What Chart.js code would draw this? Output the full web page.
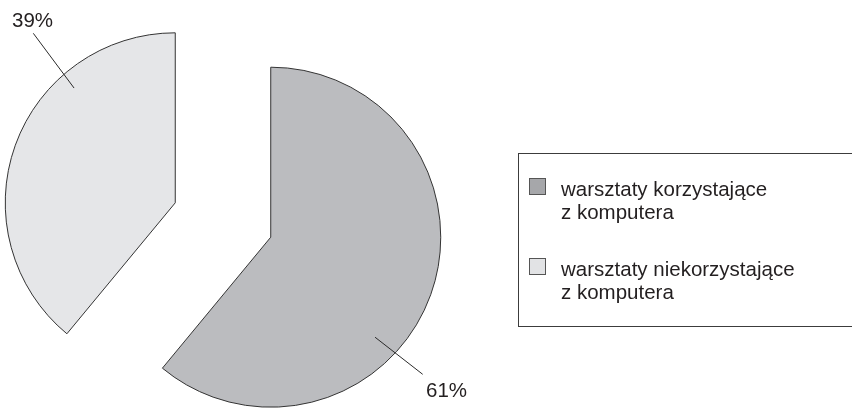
<!DOCTYPE html>
<html lang="pl">
<head>
<meta charset="utf-8">
<script src="https://cdn.jsdelivr.net/npm/chart.js@4.4.1/dist/chart.umd.min.js"></script>
<style>
  html, body { margin: 0; padding: 0; background: #fff; overflow: hidden; }
  #wrap { position: relative; width: 852px; height: 415px; }
  #chart { position: absolute; left: 0; top: 0; }
  #legend {
    position: absolute; left: 518px; top: 153px; width: 360px; height: 174px;
    border: 1px solid #3c3c3c; box-sizing: border-box;
    font-family: "Liberation Sans", Arial, sans-serif; font-size: 20.5px; line-height: 22.6px; color: #231f20;
  }
  .box { position: absolute; left: 10px; width: 17px; height: 17px; box-sizing: border-box; border: 1px solid #555; }
  .txt { position: absolute; left: 42px; white-space: nowrap; }
</style>
</head>
<body>
<div id="wrap">
  <canvas id="chart" width="852" height="415"></canvas>
  <div id="legend"></div>
</div>
<script>
// Dane wykresu
const categories = [
    ['warsztaty korzystające', 'z komputera'],
    ['warsztaty niekorzystające', 'z komputera']
];
const shares = [61, 39];
const sliceColors = ['#bbbcbf', '#e5e6e8'];
const legendColors = ['#a6a7aa', '#e2e3e5'];

// Wysunięcie wycinków (px wzdłuż środka kąta)
const explodeBy = [50.75, 50.75];

// Pozycje podpisów procentowych (kąt kotwicy w stopniach od góry, zgodnie z zegarem)
const labelStyle = [
    { angle: 133.8, depth: 0.85, lineEnd: [422.7, 374.3], textAt: [426, 396.7] },
    { angle: 318.6, depth: 0.90, lineEnd: [33.3, 33.3], textAt: [12, 26.7] }
];

function shift(arc, i) {
    const mid = (arc.startAngle + arc.endAngle) / 2;
    return [Math.cos(mid) * explodeBy[i], Math.sin(mid) * explodeBy[i]];
}

// Przesuwa każdy wycinek bez zmiany promienia
const explode = {
    id: 'explode',
    afterUpdate(chart) {
        chart.getDatasetMeta(0).data.forEach((arc, i) => {
            const baseDraw = Object.getPrototypeOf(arc).draw;
            arc.draw = function (c, area) {
                const d = shift(this, i);
                c.save();
                c.translate(d[0], d[1]);
                baseDraw.call(this, c, area);
                c.restore();
            };
        });
    }
};

// Podpisy procentowe z liniami odniesienia
const pctLabels = {
    id: 'pctLabels',
    afterDatasetsDraw(chart) {
        const ctx = chart.ctx;
        const arcs = chart.getDatasetMeta(0).data;
        ctx.save();
        ctx.font = '20.5px "Liberation Sans", Arial, sans-serif';
        ctx.fillStyle = '#231f20';
        ctx.strokeStyle = '#2a2a2a';
        ctx.lineWidth = 1;
        arcs.forEach((arc, i) => {
            const d = shift(arc, i);
            const cx = arc.x + d[0];
            const cy = arc.y + d[1];
            const s = labelStyle[i];
            const a = s.angle * Math.PI / 180 - Math.PI / 2;
            const ax = cx + Math.cos(a) * arc.outerRadius * s.depth;
            const ay = cy + Math.sin(a) * arc.outerRadius * s.depth;
            ctx.beginPath();
            ctx.moveTo(ax, ay);
            ctx.lineTo(s.lineEnd[0], s.lineEnd[1]);
            ctx.stroke();
            ctx.fillText(shares[i] + '%', s.textAt[0], s.textAt[1]);
        });
        ctx.restore();
    }
};

const ctx = document.getElementById('chart').getContext('2d');
new Chart(ctx, {
    type: 'pie',
    data: {
        labels: categories,
        datasets: [{
            data: shares,
            backgroundColor: sliceColors,
            borderColor: '#333333',
            borderWidth: 1,
            radius: 170,
            clip: false
        }]
    },
    options: {
        responsive: false,
        devicePixelRatio: 1,
        animation: false,
        rotation: 0,
        layout: { padding: { left: 0, right: 406, top: 25, bottom: 0 } },
        plugins: {
            legend: { display: false },
            tooltip: { enabled: false }
        }
    },
    plugins: [explode, pctLabels]
});

// Legenda w HTML
const legend = document.getElementById('legend');
categories.forEach((lines, i) => {
    const top = 24 + i * 80;
    const box = document.createElement('div');
    box.className = 'box';
    box.style.top = top + 'px';
    box.style.background = legendColors[i];
    legend.appendChild(box);
    const txt = document.createElement('div');
    txt.className = 'txt';
    txt.style.top = (top + 0.3) + 'px';
    txt.innerHTML = lines.join('<br>');
    legend.appendChild(txt);
});
</script>
</body>
</html>
